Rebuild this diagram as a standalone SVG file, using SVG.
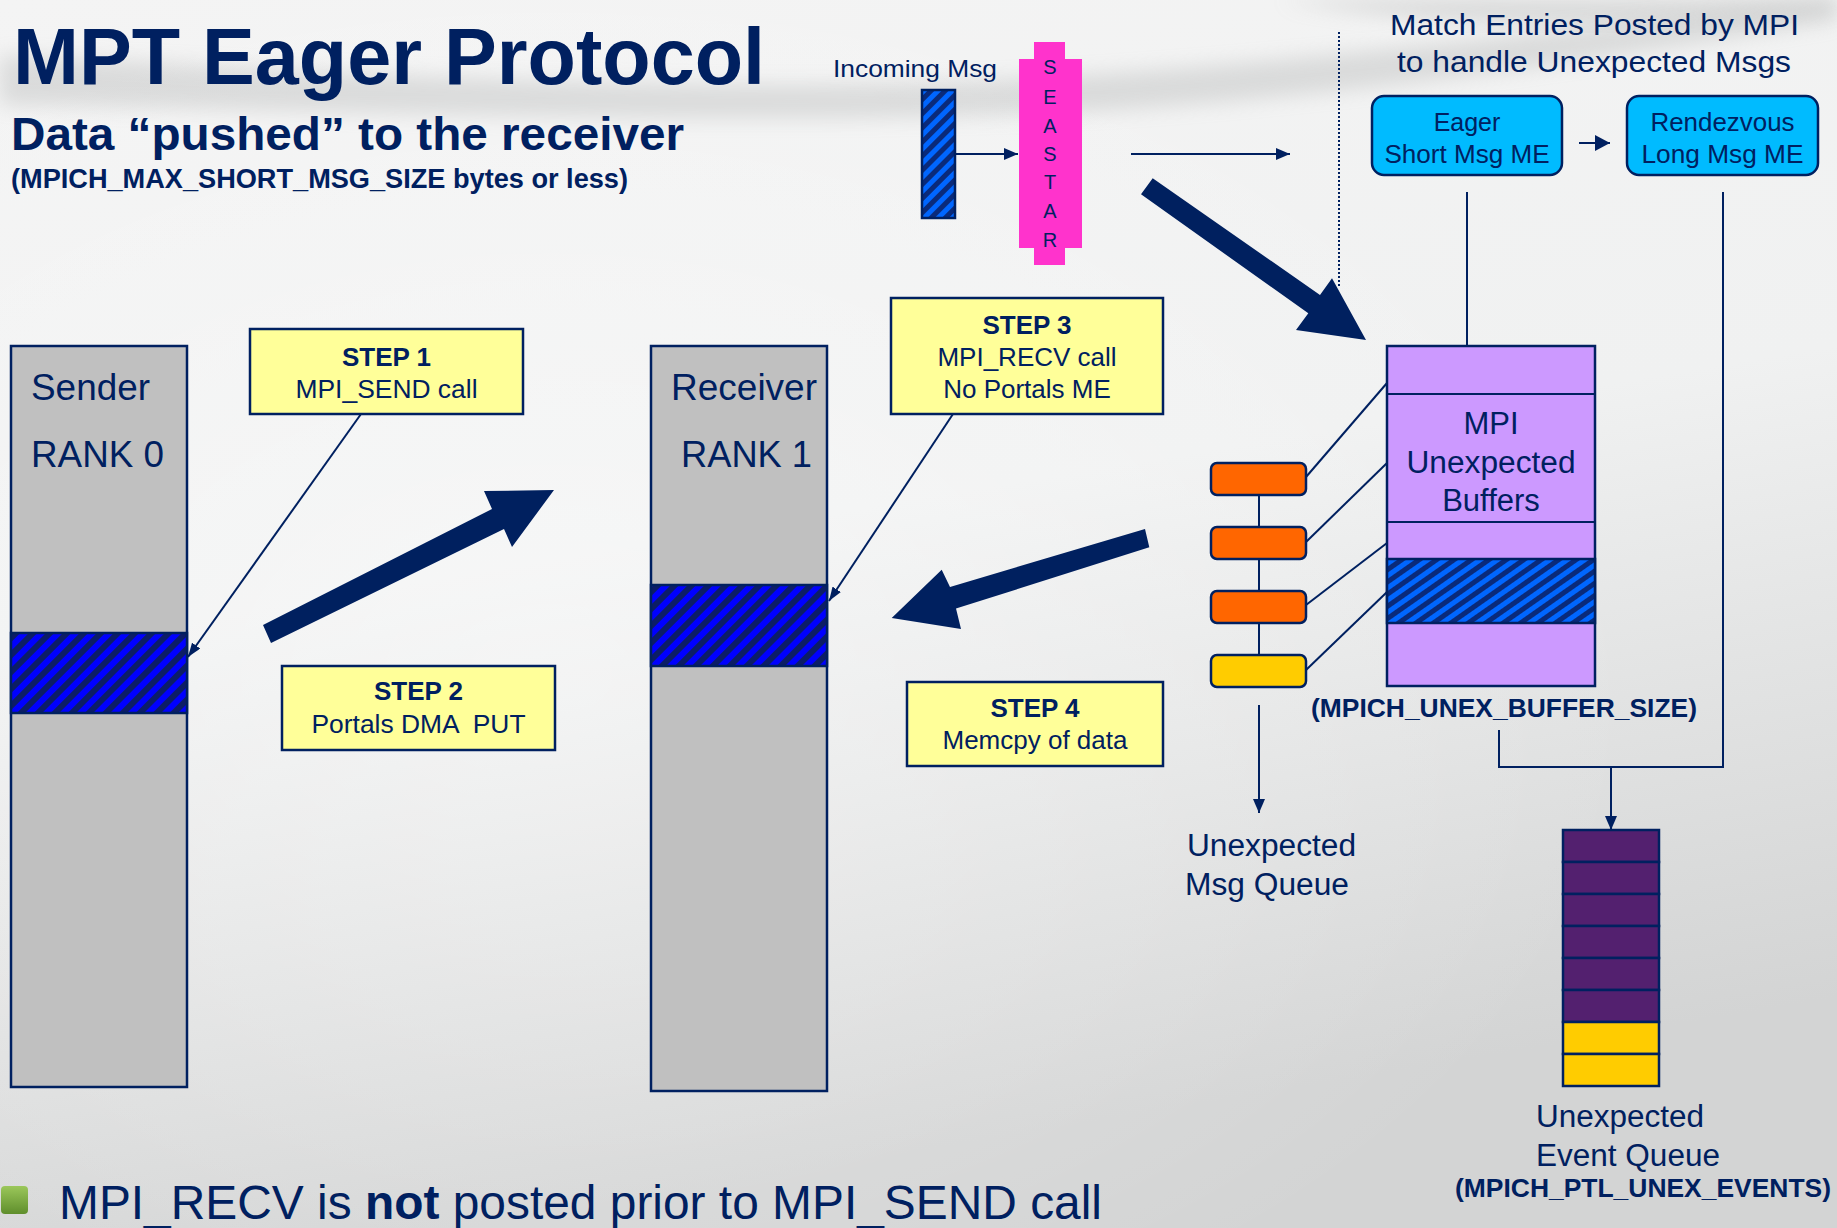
<svg xmlns="http://www.w3.org/2000/svg" width="1837" height="1228" viewBox="0 0 1837 1228">
<defs>
<style>
.t{font-family:"Liberation Sans",Arial,sans-serif;fill:#002060;}
.b{font-weight:bold;}
.box{stroke:#002060;stroke-width:2.5;}
.ln{stroke:#002060;stroke-width:2;fill:none;}
.big{fill:#00205f;}
</style>
<linearGradient id="bg" x1="0" y1="0" x2="0.25" y2="1">
<stop offset="0" stop-color="#f4f4f4"/>
<stop offset="0.5" stop-color="#f0f1f1"/>
<stop offset="1" stop-color="#d3d4d4"/>
</linearGradient>
<radialGradient id="bgl" cx="0.3" cy="0.55" r="0.6">
<stop offset="0" stop-color="#ffffff" stop-opacity="0.45"/>
<stop offset="1" stop-color="#ffffff" stop-opacity="0"/>
</radialGradient>
<filter id="blur" x="-10%" y="-50%" width="120%" height="200%"><feGaussianBlur stdDeviation="10"/></filter>
<linearGradient id="green" x1="0" y1="0" x2="0" y2="1">
<stop offset="0" stop-color="#9bc75a"/>
<stop offset="1" stop-color="#5f8e2c"/>
</linearGradient>
<pattern id="hatchS" patternUnits="userSpaceOnUse" width="12" height="12" patternTransform="rotate(45)">
<rect width="12" height="12" fill="#0000ff"/>
<rect width="6" height="12" fill="#0c1d66"/>
</pattern>
<pattern id="hatchB" patternUnits="userSpaceOnUse" width="10" height="10" patternTransform="rotate(55)">
<rect width="10" height="10" fill="#0066ff"/>
<rect width="5" height="10" fill="#0a2a7a"/>
</pattern>
<pattern id="hatchI" patternUnits="userSpaceOnUse" width="10" height="10" patternTransform="rotate(45)">
<rect width="10" height="10" fill="#0066ff"/>
<rect width="5" height="10" fill="#0a2a7a"/>
</pattern>
<marker id="ah" viewBox="0 0 10 10" refX="10" refY="5" markerUnits="userSpaceOnUse" markerWidth="14" markerHeight="12" preserveAspectRatio="none" orient="auto">
<path d="M0,0 L10,5 L0,10 z" fill="#002060"/>
</marker>
<marker id="ahs" viewBox="0 0 10 10" refX="10" refY="5" markerUnits="userSpaceOnUse" markerWidth="14" markerHeight="10" preserveAspectRatio="none" orient="auto">
<path d="M0,0 L10,5 L0,10 z" fill="#002060"/>
</marker>
<marker id="ahb" viewBox="0 0 10 10" refX="10" refY="5" markerUnits="userSpaceOnUse" markerWidth="15" markerHeight="16" preserveAspectRatio="none" orient="auto">
<path d="M0,0 L10,5 L0,10 z" fill="#002060"/>
</marker>
</defs>

<!-- background -->
<rect width="1837" height="1228" fill="url(#bg)"/>
<rect width="1837" height="1228" fill="url(#bgl)"/>
<path d="M0,55 C300,70 700,95 1000,80 C1300,65 1550,30 1837,0 L1837,20 C1600,60 1300,105 1000,115 C700,125 300,110 0,105 Z" fill="#9a9c9c" opacity="0.28" filter="url(#blur)"/>
<path d="M1280,0 C1450,30 1650,25 1837,8 L1837,0 Z" fill="#a0a2a2" opacity="0.35" filter="url(#blur)"/>

<!-- title texts -->
<g id="title">
<text class="t b" x="13" y="84" font-size="80" textLength="752" lengthAdjust="spacingAndGlyphs">MPT Eager Protocol</text>
<text class="t b" x="11" y="150" font-size="47" textLength="673" lengthAdjust="spacingAndGlyphs">Data “pushed” to the receiver</text>
<text class="t b" x="11" y="188" font-size="27" textLength="617" lengthAdjust="spacingAndGlyphs">(MPICH_MAX_SHORT_MSG_SIZE bytes or less)</text>
</g>

<!-- connectors -->
<g id="connectors">
<line class="ln" x1="955" y1="154" x2="1018" y2="154" stroke-width="3" marker-end="url(#ah)"/>
<line class="ln" x1="1131" y1="154" x2="1290" y2="154" stroke-width="3" marker-end="url(#ah)"/>
<line class="ln" x1="1339" y1="32" x2="1339" y2="287" stroke-width="1.6" stroke-dasharray="2 2"/>
<line class="ln" x1="1579" y1="143" x2="1610" y2="143" stroke-width="4" marker-end="url(#ahb)"/>
<line class="ln" x1="1467" y1="192" x2="1467" y2="346"/>
<polyline class="ln" points="1723,192 1723,767 1499,767 1499,730"/>
<line class="ln" x1="1611" y1="767" x2="1611" y2="830" marker-end="url(#ah)"/>
<line class="ln" x1="1259" y1="495" x2="1259" y2="655"/>
<line class="ln" x1="1259" y1="705" x2="1259" y2="813" marker-end="url(#ah)"/>
<line class="ln" x1="1306" y1="477" x2="1387" y2="383"/>
<line class="ln" x1="1306" y1="542" x2="1387" y2="463"/>
<line class="ln" x1="1306" y1="605" x2="1387" y2="543"/>
<line class="ln" x1="1306" y1="670" x2="1387" y2="592"/>
<line class="ln" x1="361" y1="414" x2="188" y2="657" marker-end="url(#ahs)"/>
<line class="ln" x1="953" y1="414" x2="829" y2="601" marker-end="url(#ahs)"/>
<polygon class="big" points="1152.7,178.3 1320,295 1332,278.3 1366,340 1296,330 1308.3,313.3 1141,194.3"/>
<polygon class="big" points="263,625 492,509 484,491 554,490 512,547 504,529 271,643"/>
<polygon class="big" points="1145,529 950,587 941.7,569.8 891.7,618 961,629 956,608.6 1149.3,547.3"/>
</g>

<!-- incoming message -->
<g id="incoming">
<text class="t" x="833" y="77" font-size="24" textLength="164" lengthAdjust="spacingAndGlyphs">Incoming Msg</text>
<rect x="922" y="90" width="33" height="128" fill="url(#hatchI)" class="box" stroke-width="2"/>
</g>

<!-- SEASTAR -->
<g id="seastar">
<rect x="1034" y="42" width="31" height="223" fill="#ff33cc"/>
<rect x="1019" y="59" width="63" height="189" fill="#ff33cc"/>
<g class="t" font-size="20" text-anchor="middle">
<text x="1050" y="74">S</text>
<text x="1050" y="104">E</text>
<text x="1050" y="133">A</text>
<text x="1050" y="161">S</text>
<text x="1050" y="189">T</text>
<text x="1050" y="218">A</text>
<text x="1050" y="247">R</text>
</g>
</g>

<!-- match entries -->
<g id="match-title">
<text class="t" x="1390" y="35" font-size="30" textLength="409" lengthAdjust="spacingAndGlyphs">Match Entries Posted by MPI</text>
<text class="t" x="1397" y="72" font-size="30" textLength="394" lengthAdjust="spacingAndGlyphs">to handle Unexpected Msgs</text>
</g>
<g id="eager-me">
<rect x="1372" y="96" width="190" height="79" rx="12" fill="#00bbff" class="box"/>
<text class="t" x="1467" y="131" font-size="25" text-anchor="middle">Eager</text>
<text class="t" x="1467" y="163" font-size="25" text-anchor="middle" textLength="165" lengthAdjust="spacingAndGlyphs">Short Msg ME</text>
</g>
<g id="rendezvous-me">
<rect x="1627" y="96" width="191" height="79" rx="12" fill="#00bbff" class="box"/>
<text class="t" x="1722.5" y="131" font-size="25" text-anchor="middle" textLength="144" lengthAdjust="spacingAndGlyphs">Rendezvous</text>
<text class="t" x="1722.5" y="163" font-size="25" text-anchor="middle" textLength="162" lengthAdjust="spacingAndGlyphs">Long Msg ME</text>
</g>

<!-- sender -->
<g id="sender">
<rect x="11" y="346" width="176" height="741" fill="#c0c0c0" class="box"/>
<rect x="11" y="633" width="176" height="80" fill="url(#hatchS)" class="box"/>
<text class="t" x="31" y="400" font-size="37" textLength="119" lengthAdjust="spacingAndGlyphs">Sender</text>
<text class="t" x="31" y="467" font-size="37" textLength="133" lengthAdjust="spacingAndGlyphs">RANK 0</text>
</g>

<!-- receiver -->
<g id="receiver">
<rect x="651" y="346" width="176" height="745" fill="#c0c0c0" class="box"/>
<rect x="651" y="585" width="176" height="81" fill="url(#hatchS)" class="box"/>
<text class="t" x="671" y="400" font-size="37" textLength="146" lengthAdjust="spacingAndGlyphs">Receiver</text>
<text class="t" x="681" y="467" font-size="37" textLength="131" lengthAdjust="spacingAndGlyphs">RANK 1</text>
</g>

<!-- steps -->
<g id="step1">
<rect x="250" y="329" width="273" height="85" fill="#ffff99" class="box"/>
<text class="t b" x="386.5" y="366" font-size="26" text-anchor="middle">STEP 1</text>
<text class="t" x="386.5" y="398" font-size="26" text-anchor="middle" textLength="182" lengthAdjust="spacingAndGlyphs">MPI_SEND call</text>
</g>
<g id="step2">
<rect x="282" y="666" width="273" height="84" fill="#ffff99" class="box"/>
<text class="t b" x="418.5" y="700" font-size="26" text-anchor="middle">STEP 2</text>
<text class="t" x="418.5" y="733" font-size="26" text-anchor="middle" xml:space="preserve" textLength="214" lengthAdjust="spacingAndGlyphs">Portals DMA  PUT</text>
</g>
<g id="step3">
<rect x="891" y="298" width="272" height="116" fill="#ffff99" class="box"/>
<text class="t b" x="1027" y="334" font-size="26" text-anchor="middle">STEP 3</text>
<text class="t" x="1027" y="366" font-size="26" text-anchor="middle">MPI_RECV call</text>
<text class="t" x="1027" y="398" font-size="26" text-anchor="middle">No Portals ME</text>
</g>
<g id="step4">
<rect x="907" y="682" width="256" height="84" fill="#ffff99" class="box"/>
<text class="t b" x="1035" y="717" font-size="26" text-anchor="middle">STEP 4</text>
<text class="t" x="1035" y="749" font-size="26" text-anchor="middle">Memcpy of data</text>
</g>

<!-- unexpected buffers -->
<g id="unex-buffers">
<rect x="1387" y="346" width="208" height="340" fill="#cc99ff" class="box"/>
<line class="ln" x1="1387" y1="394" x2="1595" y2="394" stroke-width="2.5"/>
<line class="ln" x1="1387" y1="522" x2="1595" y2="522" stroke-width="2.5"/>
<rect x="1387" y="559" width="208" height="64" fill="url(#hatchB)" class="box"/>
<text class="t" x="1491" y="434" font-size="31" text-anchor="middle">MPI</text>
<text class="t" x="1491" y="473" font-size="31" text-anchor="middle" textLength="169" lengthAdjust="spacingAndGlyphs">Unexpected</text>
<text class="t" x="1491" y="511" font-size="31" text-anchor="middle">Buffers</text>
<text class="t b" x="1311" y="717" font-size="26" textLength="386" lengthAdjust="spacingAndGlyphs">(MPICH_UNEX_BUFFER_SIZE)</text>
</g>

<!-- unexpected msg queue -->
<g id="unex-msg-queue">
<rect x="1211" y="463" width="95" height="32" rx="6" fill="#ff6600" class="box"/>
<rect x="1211" y="527" width="95" height="32" rx="6" fill="#ff6600" class="box"/>
<rect x="1211" y="591" width="95" height="32" rx="6" fill="#ff6600" class="box"/>
<rect x="1211" y="655" width="95" height="32" rx="6" fill="#ffcc00" class="box"/>
<text class="t" x="1187" y="856" font-size="31" textLength="169" lengthAdjust="spacingAndGlyphs">Unexpected</text>
<text class="t" x="1185" y="895" font-size="31" textLength="164" lengthAdjust="spacingAndGlyphs">Msg Queue</text>
</g>

<!-- unexpected event queue -->
<g id="unex-event-queue">
<rect x="1563" y="830" width="96" height="32" fill="#53206f" class="box"/>
<rect x="1563" y="862" width="96" height="32" fill="#53206f" class="box"/>
<rect x="1563" y="894" width="96" height="32" fill="#53206f" class="box"/>
<rect x="1563" y="926" width="96" height="32" fill="#53206f" class="box"/>
<rect x="1563" y="958" width="96" height="32" fill="#53206f" class="box"/>
<rect x="1563" y="990" width="96" height="32" fill="#53206f" class="box"/>
<rect x="1563" y="1022" width="96" height="32" fill="#ffcc00" class="box"/>
<rect x="1563" y="1054" width="96" height="32" fill="#ffcc00" class="box"/>
<text class="t" x="1536" y="1127" font-size="31" textLength="168" lengthAdjust="spacingAndGlyphs">Unexpected</text>
<text class="t" x="1536" y="1166" font-size="31" textLength="184" lengthAdjust="spacingAndGlyphs">Event Queue</text>
<text class="t b" x="1455" y="1197" font-size="26" textLength="376" lengthAdjust="spacingAndGlyphs">(MPICH_PTL_UNEX_EVENTS)</text>
</g>

<!-- bottom bullet -->
<g id="bullet">
<rect x="1" y="1186" width="27" height="28" rx="4" fill="url(#green)"/>
<text class="t" x="59" y="1219" font-size="48" textLength="1043" lengthAdjust="spacingAndGlyphs">MPI_RECV is <tspan class="b">not</tspan> posted prior to MPI_SEND call</text>
</g>
</svg>
